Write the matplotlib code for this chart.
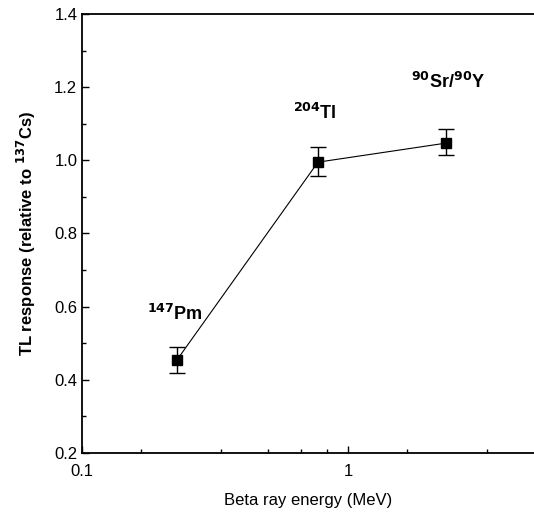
import matplotlib.pyplot as plt
from matplotlib.ticker import FixedLocator, NullFormatter

plt.rcParams['font.family'] = ['Liberation Sans', 'DejaVu Sans']

# beta ray energy (MeV) and TL response relative to 137Cs
energy = [0.227, 0.77, 2.33]
response = [0.454, 0.995, 1.047]
err_low = [0.036, 0.038, 0.032]
err_high = [0.036, 0.041, 0.039]
sources = [r'$^{\mathbf{147}}$Pm', r'$^{\mathbf{204}}$Tl', r'$^{\mathbf{90}}$Sr/$^{\mathbf{90}}$Y']
label_x = [0.175, 0.62, 1.72]
label_y = [0.58, 1.13, 1.215]

fig = plt.figure(figsize=(5.34, 5.2), dpi=100)
ax = fig.add_axes([0.154, 0.129, 0.846, 0.844])

ax.errorbar(energy, response, yerr=[err_low, err_high], color='black', lw=0.8,
            marker='s', ms=7, capsize=6, elinewidth=1.0, capthick=1.0)

for x, y, s in zip(label_x, label_y, sources):
    ax.text(x, y, s, fontsize=13, fontweight='bold', va='center')

ax.set_xscale('log')
ax.set_xlim(0.1, 5)
ax.set_ylim(0.2, 1.4)
ax.set_xticks([0.1, 1])
ax.set_xticklabels(['0.1', '1'])
ax.xaxis.set_minor_locator(FixedLocator([0.167, 0.333, 0.5, 0.667, 0.833, 1.67, 3.33]))
ax.xaxis.set_minor_formatter(NullFormatter())
ax.set_yticks([0.2, 0.4, 0.6, 0.8, 1.0, 1.2, 1.4])
ax.set_yticks([0.3, 0.5, 0.7, 0.9, 1.1, 1.3], minor=True)

ax.tick_params(which='both', direction='in', labelsize=12, width=1.0)
ax.tick_params(which='major', length=5)
ax.tick_params(which='minor', length=3)
ax.tick_params(axis='x', pad=8)

ax.spines['right'].set_visible(False)
for s in ['left', 'bottom', 'top']:
    ax.spines[s].set_linewidth(1.3)

ax.set_xlabel('Beta ray energy (MeV)', fontsize=12, labelpad=10)
ax.set_ylabel(r'TL response (relative to $^{\mathbf{137}}$Cs)', fontsize=12,
              fontweight='bold', labelpad=12)

fig.savefig('out.png', dpi=100)
